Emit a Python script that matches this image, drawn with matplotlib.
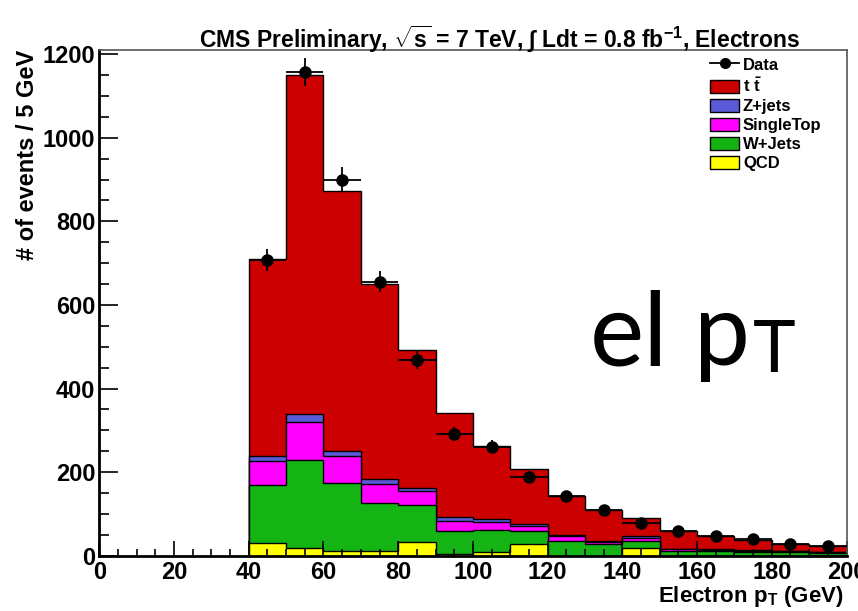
import numpy as np
import matplotlib
matplotlib.use("Agg")
import matplotlib.pyplot as plt
from matplotlib.patches import Patch
from matplotlib.lines import Line2D

plt.rcParams["font.family"] = ["Liberation Sans", "DejaVu Sans"]
plt.rcParams["font.weight"] = "bold"
plt.rcParams["mathtext.fontset"] = "custom"
plt.rcParams["mathtext.rm"] = "Liberation Sans:bold"
plt.rcParams["mathtext.bf"] = "Liberation Sans:bold"

# electron pT bins, 10 GeV wide from 40 to 200
edges = np.arange(40, 201, 10)
centers = edges[:-1] + 5

# per-sample yields, bottom of the stack first
qcd = [30, 19, 12, 12, 33, 5, 8, 27, 0, 0, 19, 0, 0, 0, 0, 0]
wjets = [138, 210, 161, 114, 89, 54, 53, 31, 36, 27, 16, 12, 11, 10, 9, 7]
singletop = [58, 90, 65, 46, 33, 24, 19, 13, 11, 5, 7, 3, 2, 2, 2, 1]
zjets = [12, 20, 13, 11, 8, 10, 8, 6, 3, 4, 4, 2, 2, 2, 1, 1]
total = [711, 1150, 872, 649, 493, 342, 262, 207, 142, 109, 91, 60, 48, 38, 28, 24]
ttbar = list(np.array(total) - np.array(qcd) - np.array(wjets)
             - np.array(singletop) - np.array(zjets))

data = [708, 1157, 900, 656, 469, 292, 261, 189, 143, 110, 78, 58, 46, 40, 27, 23]

samples = [
    ("QCD", qcd, "#ffff00"),
    ("W+Jets", wjets, "#14b414"),
    ("SingleTop", singletop, "#ff00ff"),
    ("Z+jets", zjets, "#5a5ad8"),
    (r"t $\bar{\mathregular{t}}$", ttbar, "#cc0000"),
]

fig = plt.figure(figsize=(8.58, 6.11), dpi=100)
ax = fig.add_axes([99.3 / 858, 1 - 555.7 / 611, (846.5 - 99.3) / 858, (555.7 - 50) / 611])

# cumulative sums, drawn from the top of the stack down
cums = np.cumsum([np.array(s[1], dtype=float) for s in samples], axis=0)
for i in range(len(samples) - 1, -1, -1):
    ax.stairs(cums[i], edges, baseline=0, fill=True,
              facecolor=samples[i][2], edgecolor="black", linewidth=1.0)

data = np.array(data, dtype=float)
ax.errorbar(centers, data, xerr=5, yerr=np.sqrt(data), fmt="o", color="black",
            markersize=8, elinewidth=1.3, capsize=0, zorder=5)

ax.set_xlim(0, 200)
ax.set_ylim(0, 1210)
ax.set_xticks(np.arange(0, 201, 20))
ax.set_xticks(np.arange(0, 201, 5), minor=True)
ax.set_yticks(np.arange(0, 1201, 200))
ax.set_yticks(np.arange(0, 1201, 50), minor=True)
ax.tick_params(axis="both", which="both", direction="in", labelsize=17, width=1.2)
ax.tick_params(axis="x", which="major", length=11, pad=4)
ax.tick_params(axis="x", which="minor", length=5)
ax.tick_params(axis="y", which="major", length=14, pad=3)
ax.tick_params(axis="y", which="minor", length=7)
for lab in ax.get_xticklabels() + ax.get_yticklabels():
    lab.set_fontweight("bold")
for side in ["left", "bottom"]:
    ax.spines[side].set_linewidth(2)
for side in ["top", "right"]:
    ax.spines[side].set_linewidth(1.2)
    ax.spines[side].set_color("#555555")

handles = [Line2D([0], [0], color="black", marker="o", markersize=7, lw=1.3)]
labels = ["Data"]
for name, _, col in samples[::-1]:
    handles.append(Patch(facecolor=col, edgecolor="black", linewidth=1))
    labels.append(name)
leg = ax.legend(handles, labels, loc="upper left", bbox_to_anchor=(0.8, 1.012),
                frameon=False, prop={"weight": "bold", "size": 12},
                handlelength=1.7, handleheight=0.85, handletextpad=0.25,
                labelspacing=0.22, borderpad=0.3)

fig.text(499 / 858, 1 - 47 / 611,
         r"CMS Preliminary, $\sqrt{\mathregular{s}}$ = 7 TeV, $\int$ Ldt = 0.8 fb$^{-1}$, Electrons",
         ha="center", va="baseline", fontsize=16.5, fontweight="bold")
fig.text(28 / 858, 1 - 50 / 611, "# of events / 5 GeV", rotation=90,
         ha="center", va="top", fontsize=17, fontweight="bold")
fig.text(843 / 858, 1 - 602 / 611, r"Electron p$_\mathregular{T}$ (GeV)",
         ha="right", va="baseline", fontsize=16, fontweight="bold")

fig.text(590 / 858, 1 - 365 / 611, "el", family="Lato", fontweight="normal",
         fontsize=74, ha="left", va="baseline")
fig.text(694 / 858, 1 - 365 / 611, "p", family="Lato", fontweight="normal",
         fontsize=72, ha="left", va="baseline")
fig.text(753 / 858, 1 - 372 / 611, "T", family="Lato", fontweight="normal",
         fontsize=52, ha="left", va="baseline")

fig.savefig("out.png", dpi=100)
